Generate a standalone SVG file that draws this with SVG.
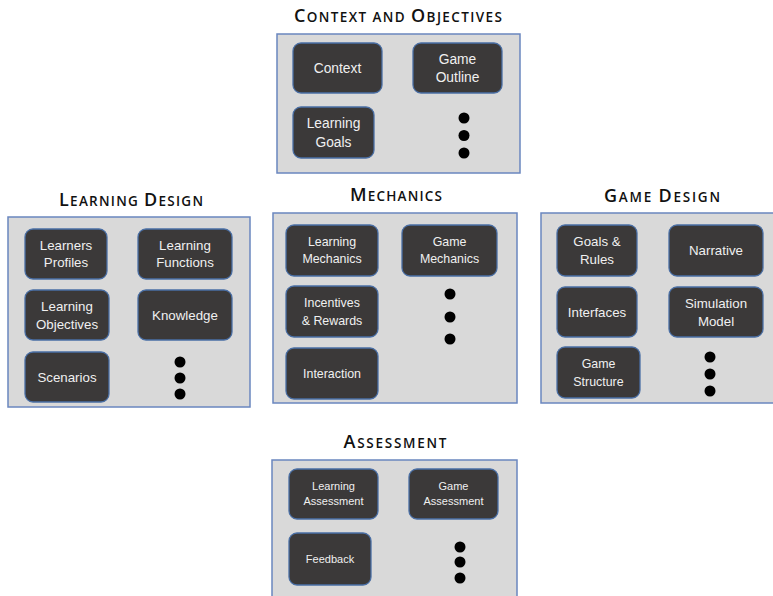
<svg xmlns="http://www.w3.org/2000/svg" width="773" height="596" viewBox="0 0 773 596">
  <style>
    .panel { fill: #d9d9d9; stroke: #6a86bf; stroke-width: 1.5; }
    .box { fill: #3b3939; stroke: #4a6fa5; stroke-width: 1.3; }
    .lbl { font-family: "Liberation Sans", Arial, sans-serif; fill: #f0f0f0; text-anchor: middle; }
    .s14 { font-size: 13.8px; }
    .s13 { font-size: 13.3px; }
    .s12 { font-size: 12.4px; }
    .s11 { font-size: 11px; }
    .title { font-family: "Open Sans", "Liberation Sans", Arial, sans-serif; font-weight: 600; fill: #111; text-anchor: middle; font-size: 13.5px; }
    .cap { font-size: 18px; }
    .dot { fill: #000; }
  </style>

  <!-- Context and Objectives -->
  <g id="context-objectives">
    <text class="title" x="398" y="22" textLength="208" lengthAdjust="spacing"><tspan class="cap">C</tspan>ONTEXT AND <tspan class="cap">O</tspan>BJECTIVES</text>
    <rect class="panel" x="277" y="34" width="243" height="139"/>
    <g id="context">
      <rect class="box" x="293" y="43" width="89" height="50" rx="8"/>
      <text class="lbl s14" x="337.5" y="73">Context</text>
    </g>
    <g id="game-outline">
      <rect class="box" x="413" y="43" width="89" height="50" rx="8"/>
      <text class="lbl s14" x="457.5" y="64">Game</text>
      <text class="lbl s14" x="457.5" y="82">Outline</text>
    </g>
    <g id="learning-goals">
      <rect class="box" x="293" y="107" width="81" height="51" rx="8"/>
      <text class="lbl s14" x="333.5" y="128">Learning</text>
      <text class="lbl s14" x="333.5" y="147">Goals</text>
    </g>
    <g id="context-more">
      <circle class="dot" cx="464" cy="118" r="5.5"/>
      <circle class="dot" cx="464" cy="135.5" r="5.5"/>
      <circle class="dot" cx="464" cy="153" r="5.5"/>
    </g>
  </g>

  <!-- Learning Design -->
  <g id="learning-design">
    <text class="title" x="131" y="206" textLength="144" lengthAdjust="spacing"><tspan class="cap">L</tspan>EARNING <tspan class="cap">D</tspan>ESIGN</text>
    <rect class="panel" x="8" y="217" width="242" height="190"/>
    <g id="learners-profiles">
      <rect class="box" x="25" y="229" width="82" height="50" rx="8"/>
      <text class="lbl s13" x="66" y="250">Learners</text>
      <text class="lbl s13" x="66" y="267">Profiles</text>
    </g>
    <g id="learning-functions">
      <rect class="box" x="138" y="229" width="94" height="50" rx="8"/>
      <text class="lbl s13" x="185" y="250">Learning</text>
      <text class="lbl s13" x="185" y="267">Functions</text>
    </g>
    <g id="learning-objectives">
      <rect class="box" x="25" y="290" width="84" height="50" rx="8"/>
      <text class="lbl s13" x="67" y="311">Learning</text>
      <text class="lbl s13" x="67" y="329">Objectives</text>
    </g>
    <g id="knowledge">
      <rect class="box" x="138" y="290" width="94" height="50" rx="8"/>
      <text class="lbl s13" x="185" y="320">Knowledge</text>
    </g>
    <g id="scenarios">
      <rect class="box" x="25" y="352" width="84" height="50" rx="8"/>
      <text class="lbl s13" x="67" y="382">Scenarios</text>
    </g>
    <g id="learning-design-more">
      <circle class="dot" cx="180" cy="362" r="5.5"/>
      <circle class="dot" cx="180" cy="378" r="5.5"/>
      <circle class="dot" cx="180" cy="394" r="5.5"/>
    </g>
  </g>

  <!-- Mechanics -->
  <g id="mechanics">
    <text class="title" x="396" y="201" textLength="92" lengthAdjust="spacing"><tspan class="cap">M</tspan>ECHANICS</text>
    <rect class="panel" x="273" y="213" width="244" height="190"/>
    <g id="learning-mechanics">
      <rect class="box" x="286" y="225" width="92" height="51" rx="8"/>
      <text class="lbl s12" x="332" y="246">Learning</text>
      <text class="lbl s12" x="332" y="263">Mechanics</text>
    </g>
    <g id="game-mechanics">
      <rect class="box" x="402" y="225" width="95" height="51" rx="8"/>
      <text class="lbl s12" x="449.5" y="246">Game</text>
      <text class="lbl s12" x="449.5" y="263">Mechanics</text>
    </g>
    <g id="incentives-rewards">
      <rect class="box" x="286" y="286" width="92" height="51" rx="8"/>
      <text class="lbl s12" x="332" y="307">Incentives</text>
      <text class="lbl s12" x="332" y="325">&amp; Rewards</text>
    </g>
    <g id="interaction">
      <rect class="box" x="286" y="348" width="92" height="51" rx="8"/>
      <text class="lbl s12" x="332" y="378">Interaction</text>
    </g>
    <g id="mechanics-more">
      <circle class="dot" cx="450" cy="294" r="5.5"/>
      <circle class="dot" cx="450" cy="317" r="5.5"/>
      <circle class="dot" cx="450" cy="339" r="5.5"/>
    </g>
  </g>

  <!-- Game Design -->
  <g id="game-design">
    <text class="title" x="662" y="202" textLength="116" lengthAdjust="spacing"><tspan class="cap">G</tspan>AME <tspan class="cap">D</tspan>ESIGN</text>
    <rect class="panel" x="541" y="213" width="240" height="190"/>
    <g id="goals-rules">
      <rect class="box" x="557" y="225" width="80" height="51" rx="8"/>
      <text class="lbl s13" x="597" y="246">Goals &amp;</text>
      <text class="lbl s13" x="597" y="264">Rules</text>
    </g>
    <g id="narrative">
      <rect class="box" x="669" y="225" width="94" height="51" rx="8"/>
      <text class="lbl s13" x="716" y="255">Narrative</text>
    </g>
    <g id="interfaces">
      <rect class="box" x="557" y="287" width="80" height="50" rx="8"/>
      <text class="lbl s13" x="597" y="317">Interfaces</text>
    </g>
    <g id="simulation-model">
      <rect class="box" x="669" y="287" width="94" height="50" rx="8"/>
      <text class="lbl s13" x="716" y="308">Simulation</text>
      <text class="lbl s13" x="716" y="326">Model</text>
    </g>
    <g id="game-structure">
      <rect class="box" x="557" y="347" width="83" height="51" rx="8"/>
      <text class="lbl s12" x="598.5" y="368">Game</text>
      <text class="lbl s12" x="598.5" y="386">Structure</text>
    </g>
    <g id="game-design-more">
      <circle class="dot" cx="710" cy="357" r="5.5"/>
      <circle class="dot" cx="710" cy="374" r="5.5"/>
      <circle class="dot" cx="710" cy="391" r="5.5"/>
    </g>
  </g>

  <!-- Assessment -->
  <g id="assessment">
    <text class="title" x="395" y="448" textLength="103" lengthAdjust="spacing"><tspan class="cap">A</tspan>SSESSMENT</text>
    <rect class="panel" x="272" y="460" width="245" height="145"/>
    <g id="learning-assessment">
      <rect class="box" x="289" y="469" width="89" height="50" rx="8"/>
      <text class="lbl s11" x="333.5" y="490">Learning</text>
      <text class="lbl s11" x="333.5" y="505">Assessment</text>
    </g>
    <g id="game-assessment">
      <rect class="box" x="409" y="469" width="89" height="50" rx="8"/>
      <text class="lbl s11" x="453.5" y="490">Game</text>
      <text class="lbl s11" x="453.5" y="505">Assessment</text>
    </g>
    <g id="feedback">
      <rect class="box" x="289" y="533" width="82" height="52" rx="8"/>
      <text class="lbl s11" x="330" y="563">Feedback</text>
    </g>
    <g id="assessment-more">
      <circle class="dot" cx="460" cy="547" r="5.5"/>
      <circle class="dot" cx="460" cy="562" r="5.5"/>
      <circle class="dot" cx="460" cy="578" r="5.5"/>
    </g>
  </g>
</svg>
